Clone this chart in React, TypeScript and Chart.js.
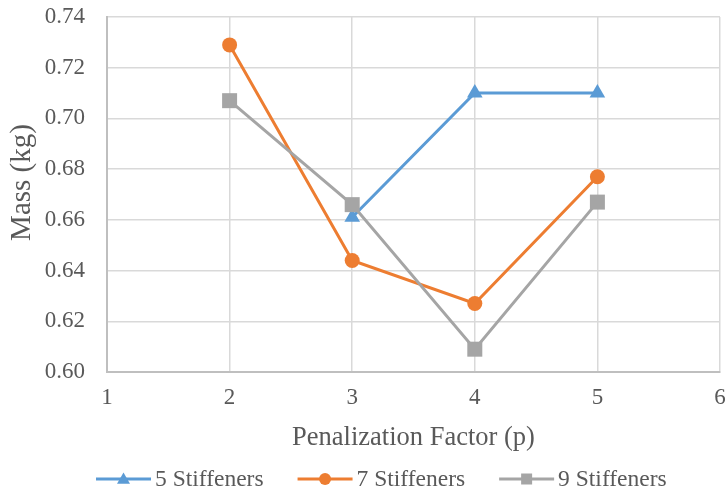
import React, { useEffect, useRef } from "react";
import { Chart, registerables } from "chart.js";

Chart.register(...registerables);

const penalization = [2, 3, 4, 5];
const mass5 = [null, 0.661, 0.710, 0.710];
const mass7 = [0.729, 0.644, 0.627, 0.677];
const mass9 = [0.707, 0.666, 0.609, 0.667];
const seriesNames = ["5 Stiffeners", "7 Stiffeners", "9 Stiffeners"];
const xTicks = [1, 2, 3, 4, 5, 6];
const yTicks = [0.6, 0.62, 0.64, 0.66, 0.68, 0.7, 0.72, 0.74];
const xTitle = "Penalization Factor (p)";
const yTitle = "Mass (kg)";

const FONT = "Liberation Serif";
const TEXT = "#595959";

Chart.defaults.font.family = FONT;
Chart.defaults.color = TEXT;

function toPoints(values: (number | null)[]) {
  const pts: { x: number; y: number }[] = [];
  values.forEach((v, i) => {
    if (v !== null) pts.push({ x: penalization[i], y: v });
  });
  return pts;
}

function drawMarker(ctx: CanvasRenderingContext2D, style: string, x: number, y: number, size: number, color: string) {
  ctx.fillStyle = color;
  ctx.beginPath();
  if (style === "triangle") {
    const r = size;
    for (let k = 0; k < 3; k++) {
      const a = (k * 2 * Math.PI) / 3;
      const px = x + Math.sin(a) * r;
      const py = y - Math.cos(a) * r;
      if (k === 0) ctx.moveTo(px, py);
      else ctx.lineTo(px, py);
    }
    ctx.closePath();
  } else if (style === "circle") {
    ctx.arc(x, y, size, 0, Math.PI * 2);
  } else {
    ctx.rect(x - size, y - size, size * 2, size * 2);
  }
  ctx.fill();
}

const legendPlugin = {
  id: "lineLegend",
  afterDraw(chart: any) {
    const ctx: CanvasRenderingContext2D = chart.ctx;
    const y = 479;
    let x = 96;
    const lineLen = 55;
    ctx.save();
    ctx.font = `23.5px "${FONT}"`;
    ctx.textBaseline = "middle";
    ctx.textAlign = "left";
    const sizes: Record<string, number> = { triangle: 7.5, circle: 6, rect: 5.5 };
    const dsList = chart.data.datasets.slice().sort((a: any, b: any) => b.order - a.order);
    dsList.forEach((ds: any) => {
      ctx.strokeStyle = ds.borderColor;
      ctx.lineWidth = 3;
      ctx.beginPath();
      ctx.moveTo(x, y);
      ctx.lineTo(x + lineLen, y);
      ctx.stroke();
      drawMarker(ctx, ds.pointStyle, x + lineLen / 2, y + (ds.pointStyle === "triangle" ? 1 : 0), sizes[ds.pointStyle], ds.borderColor);
      ctx.fillStyle = TEXT;
      ctx.fillText(ds.label, x + lineLen + 4, y + 1);
      x += lineLen + 4 + ctx.measureText(ds.label).width + 34;
    });
    ctx.restore();
  },
};

const yTitlePlugin = {
  id: "yTitle",
  afterDraw(chart: any) {
    const ctx: CanvasRenderingContext2D = chart.ctx;
    const area = chart.chartArea;
    ctx.save();
    ctx.translate(22, (area.top + area.bottom) / 2 - 12);
    ctx.rotate(-Math.PI / 2);
    ctx.font = `29px "${FONT}"`;
    ctx.fillStyle = TEXT;
    ctx.textAlign = "center";
    ctx.textBaseline = "middle";
    ctx.fillText(yTitle, 0, 0);
    ctx.restore();
  },
};

export default function App() {
  const ref = useRef<HTMLCanvasElement | null>(null);

  useEffect(() => {
    if (!ref.current) return;
    const chart = new Chart(ref.current, {
      type: "line",
      data: {
        datasets: [
          {
            label: seriesNames[0],
            data: toPoints(mass5),
            borderColor: "#5b9bd5",
            backgroundColor: "#5b9bd5",
            pointStyle: "triangle",
            pointRadius: 9,
            pointHoverRadius: 9,
            borderWidth: 3,
            pointBorderWidth: 0,
            order: 3,
          },
          {
            label: seriesNames[1],
            data: toPoints(mass7),
            borderColor: "#ed7d31",
            backgroundColor: "#ed7d31",
            pointStyle: "circle",
            pointRadius: 7.5,
            pointHoverRadius: 7.5,
            borderWidth: 3,
            pointBorderWidth: 0,
            order: 2,
          },
          {
            label: seriesNames[2],
            data: toPoints(mass9),
            borderColor: "#a5a5a5",
            backgroundColor: "#a5a5a5",
            pointStyle: "rect",
            pointRadius: 10.6,
            pointHoverRadius: 10.6,
            borderWidth: 3,
            pointBorderWidth: 0,
            order: 1,
          },
        ],
      },
      options: {
        responsive: false,
        animation: false,
        layout: { autoPadding: false, padding: { top: 17, bottom: 40, left: 0, right: 5 } },
        plugins: {
          legend: { display: false },
          tooltip: { enabled: false },
        },
        scales: {
          x: {
            type: "linear",
            min: 1,
            max: 6,
            afterBuildTicks: (scale: any) => {
              scale.ticks = xTicks.map((v) => ({ value: v }));
            },
            afterFit: (scale: any) => {
              scale.height = 82;
              scale.paddingLeft = 0;
              scale.paddingRight = 0;
            },
            ticks: {
              color: TEXT,
              font: { family: FONT, size: 23 },
              padding: 12,
              maxRotation: 0,
              callback: (v: any) => String(v),
            },
            grid: { color: "#d9d9d9", lineWidth: 1.5, drawTicks: false },
            border: { color: "#bfbfbf", width: 2 },
            title: {
              display: true,
              text: xTitle,
              color: TEXT,
              font: { family: FONT, size: 26.5 },
              padding: 0,
            },
          },
          y: {
            type: "linear",
            min: 0.6,
            max: 0.74,
            afterBuildTicks: (scale: any) => {
              scale.ticks = yTicks.map((v) => ({ value: v }));
            },
            afterFit: (scale: any) => {
              scale.width = 107;
              scale.paddingTop = 0;
              scale.paddingBottom = 0;
            },
            ticks: {
              color: TEXT,
              font: { family: FONT, size: 23 },
              padding: 22,
              callback: (v: any) => Number(v).toFixed(2),
            },
            grid: { color: "#d9d9d9", lineWidth: 1.5, drawTicks: false },
            border: { color: "#bfbfbf", width: 2 },
            title: { display: false, text: yTitle },
          },
        },
      },
      plugins: [legendPlugin, yTitlePlugin],
    });
    return () => chart.destroy();
  }, []);

  return (
    <div style={{ position: "absolute", left: 0, top: 0, width: 725, height: 494 }}>
      <canvas ref={ref} width={725} height={494} />
    </div>
  );
}
